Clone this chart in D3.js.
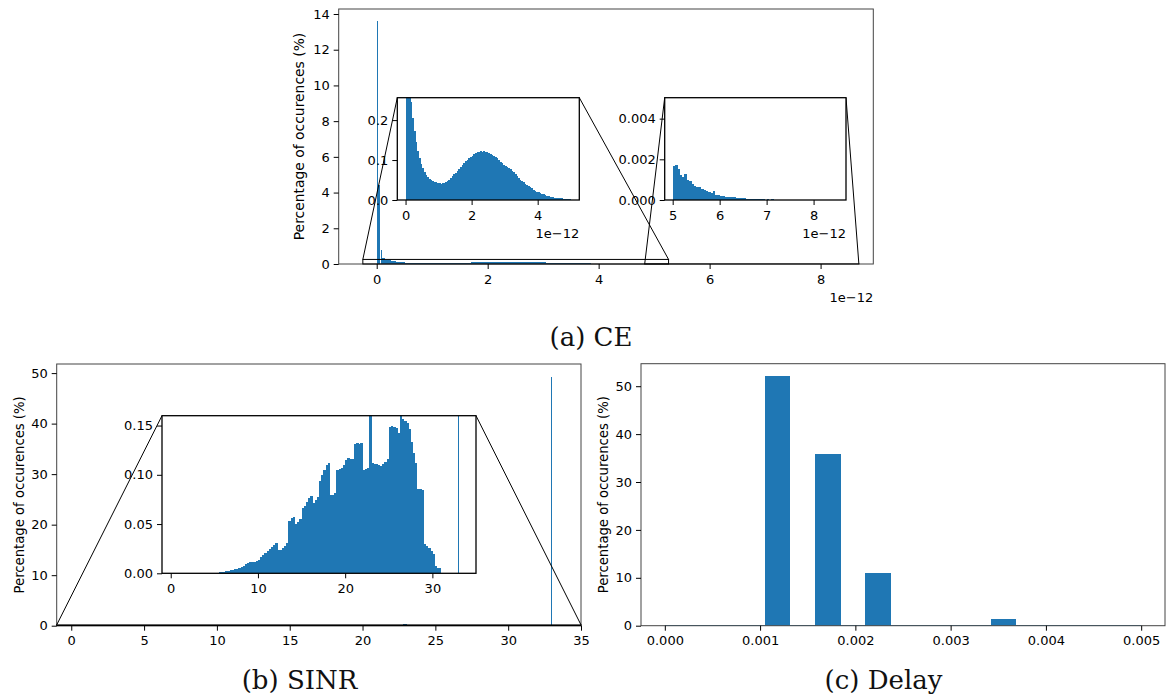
<!DOCTYPE html>
<html><head><meta charset="utf-8">
<script src="https://cdn.jsdelivr.net/npm/d3@7"></script>
<style>body{margin:0;background:#fff} svg{display:block}</style>
</head><body>
<svg id="c" width="1166" height="699"></svg>
<script>
// ---------------- DATA ----------------
// (a) CE  (x values in units of 1e-12, y in %)
const ceSpikeEdges  = [0, 0.02, 0.05, 0.07, 0.085, 0.10];
const ceSpikeValues = [13.6, 4.4, 1.5, 0.8, 0.5];
const ceBodyStart = 0.10, ceBinWidth = 0.05;
const ceBodyValues = [
  0.34,0.245,0.205,0.172,0.145,0.122,0.104,0.090,0.080,0.070,
  0.063,0.057,0.053,0.050,0.047,0.045,0.044,0.043,0.042,0.041,
  0.042,0.043,0.045,0.048,0.051,0.055,0.059,0.064,0.068,0.073,
  0.078,0.083,0.088,0.093,0.098,0.101,0.105,0.108,0.111,0.114,
  0.117,0.119,0.121,0.122,0.121,0.122,0.121,0.120,0.118,0.116,
  0.113,0.110,0.107,0.104,0.100,0.096,0.092,0.088,0.085,0.083,
  0.080,0.077,0.073,0.069,0.064,0.059,0.055,0.051,0.047,0.044,
  0.041,0.038,0.035,0.032,0.029,0.026,0.023,0.021,0.019,0.017,
  0.015,0.014,0.012,0.011,0.010,0.0085,0.0076,0.0068,0.0062,0.0057,
  0.0052,0.0047,0.0042,0.0037,0.0032,0.0027,0.0022,0.0018
];
const ceTailStart = 5.0;
const ceTailValues = [
  0.00165,0.00170,0.00150,0.00125,0.00112,0.00130,0.00100,0.00092,0.00080,0.00068,
  0.00066,0.00062,0.00052,0.00050,0.00042,0.00040,0.00036,0.00045,0.00026,0.00024,
  0.00021,0.00020,0.00017,0.00016,0.00015,0.00013,0.00014,0.00011,0.00010,0.00009,
  0.00008,0.00007,0.00006,0.00005,0.00007,0.00004,0.00006,0.00003,0.00003,0.00002,
  0.00004,0.00002,0.00003,0.00001,0.00002,0,0.00002,0.00002,0.00001,0.00002,
  0.00001,0,0.00002,0.00001,0.00002,0,0.00002,0.00001,0,0.00002,
  0.00001,0.00002,0,0.00001,0,0,0.00001,0,0,0.00001,0
];
const ceXTicks = [0,2,4,6,8], ceYTicks = [0,2,4,6,8,10,12,14];
const ceIn1XTicks = [0,2,4], ceIn1YTicks = [0,0.1,0.2], ceIn1YLabels = ["0.0","0.1","0.2"];
const ceIn2XTicks = [5,6,7,8], ceIn2YTicks = [0,0.002,0.004], ceIn2YLabels = ["0.000","0.002","0.004"];

// (b) SINR
const sinrBinStart = 5.5, sinrBinWidth = 0.25;
const sinrValues = [
  0.001,0.0013,0.0017,0.002,0.0025,0.003,0.0035,0.004,0.0045,0.005,
  0.0065,0.0075,0.009,0.010,0.0115,0.0112,0.0118,0.0125,
  0.014,0.0165,0.019,0.0205,0.023,0.025,0.027,0.029,
  0.031,0.0235,0.024,0.026,0.028,0.031,0.053,0.056,
  0.057,0.050,0.052,0.055,0.066,0.068,0.072,0.076,
  0.078,0.071,0.074,0.077,0.094,0.100,0.105,0.110,
  0.112,0.080,0.080,0.082,0.105,0.106,0.107,0.110,
  0.115,0.117,0.116,0.116,0.131,0.132,0.131,0.132,
  0.105,0.106,0.107,0.250,0.112,0.111,0.111,0.110,
  0.109,0.111,0.113,0.116,0.149,0.150,0.149,0.148,
  0.142,0.164,0.157,0.155,0.153,0.146,0.133,0.122,
  0.112,0.086,0.086,0.085,0.030,0.028,0.026,0.023,
  0.020,0.007,0.0055,0.0055
];
const sinrSpikeX = 33.0, sinrSpikeValue = 49.3;
const sinrXTicks = [0,5,10,15,20,25,30,35], sinrYTicks = [0,10,20,30,40,50];
const sinrInXTicks = [0,10,20,30], sinrInYTicks = [0,0.05,0.10,0.15], sinrInYLabels = ["0.00","0.05","0.10","0.15"];

// (c) Delay
const delayBinStart = 0, delayBinCount = 19, delayRange = 0.005;
const delayValues = [0.1,0.1,0.1,0.1,52.1,0.1,35.8,0.1,11.0,0.1,0.1,0.1,0.1,1.4,0.1,0.1,0.1,0.1,0.1];
const delayXTicks = [0,0.001,0.002,0.003,0.004,0.005], delayXLabels = ["0.000","0.001","0.002","0.003","0.004","0.005"];
const delayYTicks = [0,10,20,30,40,50];

const yLabelText = "Percentage of occurences (%)";
const captions = ["(a) CE", "(b) SINR", "(c) Delay"];

// ---------------- DRAWING ----------------
const svg = d3.select("#c");
const BLUE = "#1f77b4";
const FONT = "DejaVu Sans";
const SERIF = "DejaVu Serif";

const fromStart = (s, w, vals) => vals.map((v, i) => ({x0: s + i*w, x1: s + (i+1)*w, v}));
const fromEdges = (e, vals) => vals.map((v, i) => ({x0: e[i], x1: e[i+1], v}));

const ceBins = fromEdges(ceSpikeEdges, ceSpikeValues)
  .concat(fromStart(ceBodyStart, ceBinWidth, ceBodyValues));
const ceTailBins = fromStart(ceTailStart, ceBinWidth, ceTailValues);
const sinrBins = fromStart(sinrBinStart, sinrBinWidth, sinrValues)
  .concat([{x0: sinrSpikeX - 0.03, x1: sinrSpikeX + 0.03, v: sinrSpikeValue}]);
const delayBins = fromStart(delayBinStart, delayRange / delayBinCount, delayValues);

let clipN = 0;
function makeAxes(o) {
  const x = d3.scaleLinear().domain(o.xDomain).range([o.left, o.right]);
  const y = d3.scaleLinear().domain(o.yDomain).range([o.bottom, o.top]);
  const g = svg.append("g");
  g.append("rect").attr("x", o.left).attr("y", o.top)
    .attr("width", o.right - o.left).attr("height", o.bottom - o.top).attr("fill", "#fff");
  const id = "clip" + (clipN++);
  g.append("clipPath").attr("id", id).append("rect")
    .attr("x", o.left).attr("y", o.top).attr("width", o.right - o.left).attr("height", o.bottom - o.top);
  const bg = g.append("g").attr("clip-path", `url(#${id})`);
  o.binSets.forEach(bins => {
    bg.append("g").attr("shape-rendering", "crispEdges")
      .selectAll("rect").data(bins.filter(d => d.v > 0)).join("rect")
      .attr("x", d => { const w = x(d.x1) - x(d.x0); return w < 1.5 ? Math.round(x(d.x0)) : x(d.x0); })
      .attr("width", d => { const w = x(d.x1) - x(d.x0); return w < 1.5 ? 1 : w + 0.3; })
      .attr("y", d => y(d.v))
      .attr("height", d => Math.max(0.6, y(0) - y(d.v)))
      .attr("fill", BLUE);
  });
  g.append("rect").attr("x", o.left).attr("y", o.top)
    .attr("width", o.right - o.left).attr("height", o.bottom - o.top)
    .attr("fill", "none").attr("stroke", o.frame || "#333").attr("stroke-width", o.frameW || 1);

  const xa = g.append("g").attr("transform", `translate(0,${o.bottom})`)
    .call(d3.axisBottom(x).tickValues(o.xTicks)
      .tickFormat((d, i) => o.xLabels ? o.xLabels[i] : d3.format("")(d))
      .tickSize(5).tickPadding(5.5));
  const ya = g.append("g").attr("transform", `translate(${o.left},0)`)
    .call(d3.axisLeft(y).tickValues(o.yTicks)
      .tickFormat((d, i) => o.yLabels ? o.yLabels[i] : d3.format("")(d))
      .tickSize(5).tickPadding(4));
  [xa, ya].forEach(a => {
    a.select(".domain").remove();
    a.attr("font-family", FONT).attr("font-size", 13);
    a.selectAll(".tick line").attr("stroke", "#000").attr("stroke-width", 1);
    a.selectAll(".tick text").attr("fill", "#000");
  });
  if (o.offset) {
    g.append("text").attr("x", o.right).attr("y", o.bottom + 38).attr("text-anchor", "end")
      .attr("font-family", FONT).attr("font-size", 13).attr("fill", "#000").text(o.offset);
  }
  if (o.ylabel) {
    g.append("text").attr("transform", `translate(${o.ylabelX},${(o.top + o.bottom) / 2}) rotate(-90)`)
      .attr("text-anchor", "middle").attr("dominant-baseline", "central")
      .attr("font-family", FONT).attr("font-size", o.ylabelSize || 13).attr("fill", "#000").text(o.ylabel);
  }
  return {x, y, g, o};
}

function indicate(main, io) {
  const x0 = main.x(io.xDomain[0]), x1 = main.x(io.xDomain[1]);
  const y0 = main.y(io.yDomain[0]), y1 = main.y(io.yDomain[1]);
  const layer = svg.append("g");
  layer.append("rect").attr("x", x0).attr("y", y1).attr("width", x1 - x0).attr("height", Math.max(0.1, y0 - y1))
    .attr("fill", "none").attr("stroke", "#000").attr("stroke-width", 1);
  layer.append("line").attr("x1", x0).attr("y1", y1).attr("x2", io.left).attr("y2", io.top)
    .attr("stroke", "#000").attr("stroke-width", 1);
  layer.append("line").attr("x1", x1).attr("y1", y1).attr("x2", io.right).attr("y2", io.top)
    .attr("stroke", "#000").attr("stroke-width", 1);
}

// ---- (a) CE ----
const ceMain = makeAxes({
  left: 338.7, right: 873.3, top: 9, bottom: 264,
  xDomain: [-0.685, 8.95], yDomain: [0, 14.28],
  xTicks: ceXTicks, yTicks: ceYTicks,
  binSets: [ceBins, ceTailBins], offset: "1e\u221212",
  ylabel: yLabelText, ylabelX: 299, ylabelSize: 13.9, frame: "#444"
});
const ceIn1Spec = {
  left: 397.3, right: 579.3, top: 97.7, bottom: 200,
  xDomain: [-0.25, 5.26], yDomain: [0, 0.256],
  xTicks: ceIn1XTicks, yTicks: ceIn1YTicks, yLabels: ceIn1YLabels,
  binSets: [ceBins], offset: "1e\u221212", frame: "#000", frameW: 1.3
};
const ceIn2Spec = {
  left: 664.7, right: 846, top: 97.7, bottom: 200,
  xDomain: [4.83, 8.69], yDomain: [0, 0.00503],
  xTicks: ceIn2XTicks, yTicks: ceIn2YTicks, yLabels: ceIn2YLabels,
  binSets: [ceTailBins], offset: "1e\u221212", frame: "#000", frameW: 1.3
};
indicate(ceMain, ceIn1Spec);
indicate(ceMain, ceIn2Spec);
makeAxes(ceIn1Spec);
makeAxes(ceIn2Spec);

// ---- (b) SINR ----
const sinrMain = makeAxes({
  left: 56.7, right: 581, top: 364, bottom: 625.7,
  xDomain: [-1, 35], yDomain: [0, 51.8],
  xTicks: sinrXTicks, yTicks: sinrYTicks,
  binSets: [sinrBins], ylabel: yLabelText, ylabelX: 19, ylabelSize: 13.2, frame: "#444"
});
const sinrInSpec = {
  left: 162, right: 476, top: 415.7, bottom: 573.3,
  xDomain: [-1, 35], yDomain: [0, 0.16],
  xTicks: sinrInXTicks, yTicks: sinrInYTicks, yLabels: sinrInYLabels,
  binSets: [sinrBins], frame: "#000", frameW: 1.3
};
indicate(sinrMain, sinrInSpec);
makeAxes(sinrInSpec);

// ---- (c) Delay ----
makeAxes({
  left: 641, right: 1165, top: 363.7, bottom: 625.7,
  xDomain: [-0.00025, 0.00525], yDomain: [0, 54.7],
  xTicks: delayXTicks, xLabels: delayXLabels, yTicks: delayYTicks,
  binSets: [delayBins], ylabel: yLabelText, ylabelX: 603, ylabelSize: 13.2, frame: "#444"
});

// ---- captions ----
const capPos = [[591, 346], [299.5, 689], [883.5, 689]];
svg.selectAll("text.cap").data(captions).join("text").attr("class", "cap")
  .attr("x", (d, i) => capPos[i][0]).attr("y", (d, i) => capPos[i][1])
  .attr("text-anchor", "middle").attr("font-family", SERIF).attr("font-size", 26)
  .attr("fill", "#111").text(d => d);
</script>
</body></html>
